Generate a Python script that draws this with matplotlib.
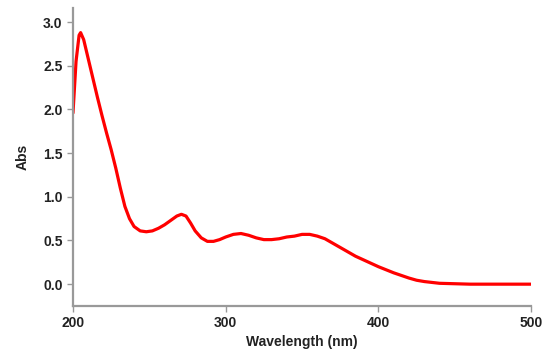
import matplotlib.pyplot as plt

# spectrum values
wavelength = [200, 202, 204, 205, 207, 210, 213, 216, 219, 222, 225, 228, 231, 234,
              237, 240, 244, 248, 252, 256, 260, 264, 268, 271, 274, 277, 280, 284,
              288, 292, 296, 300, 305, 310, 315, 320, 325, 330, 335, 340, 345, 350,
              355, 360, 365, 370, 375, 380, 385, 390, 395, 400, 405, 410, 415, 420,
              425, 430, 435, 440, 450, 460, 480, 500]
absorbance = [1.96, 2.55, 2.85, 2.88, 2.80, 2.58, 2.36, 2.14, 1.93, 1.73, 1.54, 1.33,
              1.10, 0.89, 0.75, 0.66, 0.61, 0.60, 0.61, 0.64, 0.68, 0.73, 0.78, 0.80,
              0.78, 0.70, 0.61, 0.53, 0.49, 0.49, 0.51, 0.54, 0.57, 0.58, 0.56, 0.53,
              0.51, 0.51, 0.52, 0.54, 0.55, 0.57, 0.57, 0.55, 0.52, 0.47, 0.42, 0.37,
              0.32, 0.28, 0.24, 0.20, 0.165, 0.13, 0.10, 0.07, 0.045, 0.03, 0.02,
              0.01, 0.005, 0.0, 0.0, 0.0]
xticks = [200, 300, 400, 500]
yticks = [0.0, 0.5, 1.0, 1.5, 2.0, 2.5, 3.0]

plt.rcParams['font.family'] = ['Liberation Sans', 'DejaVu Sans']

fig = plt.figure(figsize=(5.55, 3.5), dpi=100)
ax = fig.add_axes([0.1315, 0.1257, 0.8255, 0.851])

ax.plot(wavelength, absorbance, color='#ff0000', linewidth=2.3,
        solid_capstyle='round', solid_joinstyle='round')

ax.set_xlim(200, 500)
ax.set_ylim(-0.25, 3.16)
ax.set_xticks(xticks)
ax.set_xticklabels([str(t) for t in xticks], fontsize=10, fontweight='bold')
ax.set_yticks(yticks)
ax.set_yticklabels(['%.1f' % t for t in yticks], fontsize=10, fontweight='bold')

for s in ['top', 'right']:
    ax.spines[s].set_visible(False)
for s in ['left', 'bottom']:
    ax.spines[s].set_color('#999999')
    ax.spines[s].set_linewidth(1.6)
ax.tick_params(colors='#999999', length=4, width=1, labelcolor='#222222')

ax.set_ylabel('Abs', fontsize=10, fontweight='bold', color='#222222', labelpad=10)
ax.set_xlabel('Wavelength (nm)', fontsize=10, fontweight='bold', color='#222222', labelpad=3)

plt.savefig('out.png', dpi=100)
